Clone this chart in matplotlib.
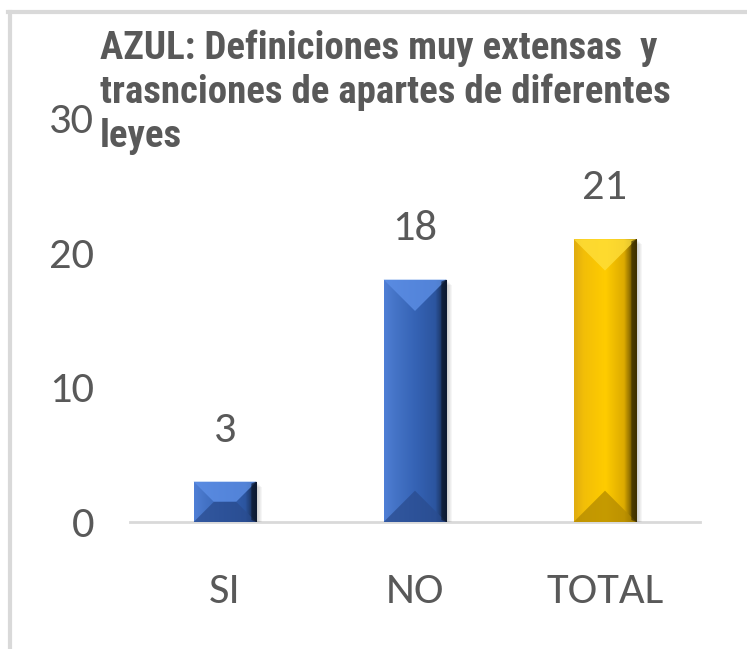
import matplotlib.pyplot as plt
import numpy as np
from matplotlib.patches import Polygon, Rectangle
from matplotlib.lines import Line2D
from matplotlib.transforms import IdentityTransform

plt.rcParams['font.family'] = ['Carlito', 'DejaVu Sans']
TITLE_FONT = ['Roboto Condensed', 'Archivo Narrow', 'DejaVu Sans']

categories = ['SI', 'NO', 'TOTAL']
values = [3, 18, 21]
bar_kind = ['blue', 'blue', 'gold']
title = 'AZUL: Definiciones muy extensas  y\ntrasnciones de apartes de diferentes\nleyes'
yticks = [0, 10, 20, 30]

TXT = '#595959'
GRID = '#d9d9d9'

# shading stops (position across bar width, colour) and bevel faces
palette = {
    'blue': dict(base='#3866b8',
                 stops=[(0.0, '#4f7fd6'), (0.15, '#4675c8'), (0.5, '#3563b5'),
                        (0.82, '#2c559f'), (0.92, '#1d3766'), (1.0, '#0e1a30')],
                 top='#5d8fe6', bottom='#2a4c8f'),
    'gold': dict(base='#f5c200',
                 stops=[(0.0, '#e0ac10'), (0.15, '#f2be08'), (0.5, '#ffcc00'),
                        (0.8, '#dcaa00'), (0.92, '#7a5e00'), (1.0, '#3e3000')],
                 top='#ffdf3a', bottom='#b38a00'),
}


def hex2rgb(h):
    h = h.lstrip('#')
    return np.array([int(h[i:i + 2], 16) / 255 for i in (0, 2, 4)])


fig = plt.figure(figsize=(7.47, 6.49), dpi=100)
ax = fig.add_axes([130 / 747, 1 - 522 / 649, 570 / 747, 404 / 649])

x = np.arange(len(categories))
bars = ax.bar(x, values, width=0.33, zorder=2,
              color=[palette[k]['base'] for k in bar_kind])

ax.set_xlim(-0.5, 2.5)
ax.set_ylim(0, 30)
ax.set_yticks(yticks)
ax.set_xticks(x)
ax.set_xticklabels(categories)
for s in ax.spines.values():
    s.set_visible(False)
ax.tick_params(axis='y', length=0, pad=26, labelsize=32, labelcolor=TXT)
ax.tick_params(axis='x', length=0, pad=37, labelsize=32, labelcolor=TXT)
ax.axhline(0, color=GRID, lw=2, zorder=1, clip_on=False)

ident = IdentityTransform()
for b, k in zip(bars, bar_kind):
    p = palette[k]
    x0, w, h = b.get_x(), b.get_width(), b.get_height()
    # horizontal gradient across the bar body
    pos = [s[0] for s in p['stops']]
    cols = np.array([hex2rgb(s[1]) for s in p['stops']])
    t = np.linspace(0, 1, 80)
    grad = np.stack([np.interp(t, pos, cols[:, i]) for i in range(3)], axis=-1)
    im = ax.imshow(grad[None, :, :], extent=(x0, x0 + w, 0, h), aspect='auto',
                   zorder=3, interpolation='bilinear')
    im.set_clip_path(b)

    # bevel faces in pixel space
    (L, B), (R, T) = ax.transData.transform([(x0, 0), (x0 + w, h)])
    d = min((R - L) / 2, (T - B) / 2)
    cx = (L + R) / 2
    if d == (R - L) / 2:
        top = [(L, T), (R, T), (cx, T - d)]
        bot = [(L, B), (R, B), (cx, B + d)]
    else:
        top = [(L, T), (R, T), (R - d, T - d), (L + d, T - d)]
        bot = [(L, B), (R, B), (R - d, B + d), (L + d, B + d)]
    ax.add_patch(Polygon(top, closed=True, transform=ident, zorder=4,
                         facecolor=p['top'], edgecolor='none', alpha=0.8))
    ax.add_patch(Polygon(bot, closed=True, transform=ident, zorder=4,
                         facecolor=p['bottom'], edgecolor='none', alpha=0.75))
    # right dark edge
    ax.add_patch(Polygon([(R - 5, B + 2), (R, B), (R, T), (R - 5, T - 2)],
                         closed=True, transform=ident, zorder=5,
                         facecolor=p['stops'][-1][1], edgecolor='none', alpha=0.7))
    # soft shadow
    for i in range(1, 6):
        ax.add_patch(Rectangle((L + 1, B - i - 1), R - L + i, T - B + 1,
                               transform=ident, zorder=1.5, facecolor='black',
                               edgecolor='none', alpha=0.035))

    ax.annotate(str(int(h)), (x0 + w / 2, h), xytext=(0, 37),
                textcoords='offset points', ha='center', va='center',
                fontsize=32, color=TXT)

fig.text(100 / 747, 1 - 30 / 649, title, ha='left', va='top', fontsize=28,
         fontweight='bold', color=TXT, linespacing=1.22, family=TITLE_FONT)

# chart border lines (top and left)
fig.add_artist(Line2D([8 / 747, 1], [1 - 12 / 649, 1 - 12 / 649],
                      color=GRID, lw=3, transform=fig.transFigure))
fig.add_artist(Line2D([10 / 747, 10 / 747], [0, 1 - 12 / 649],
                      color=GRID, lw=3, transform=fig.transFigure))

fig.savefig('out.png', dpi=100)
